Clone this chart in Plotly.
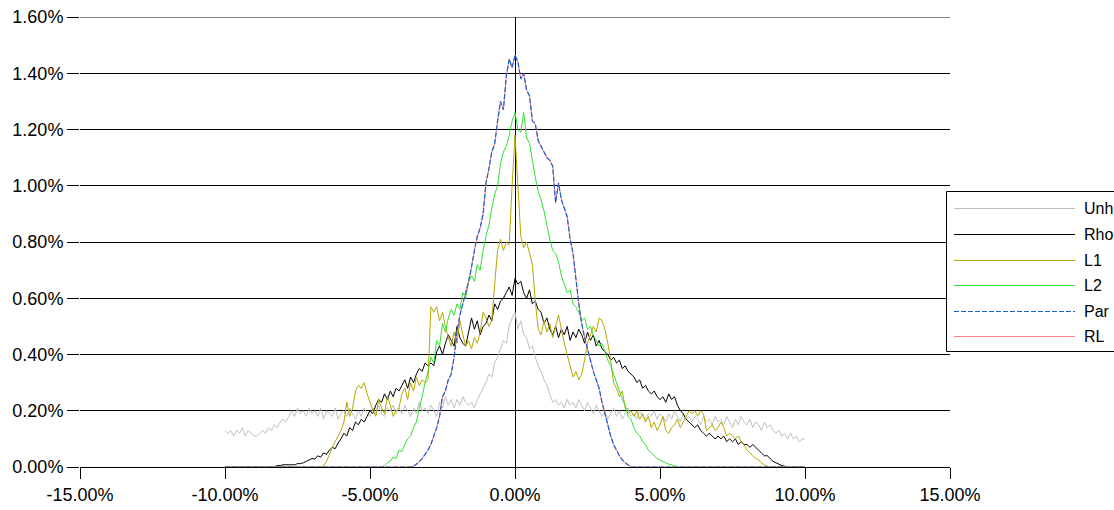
import plotly.graph_objects as go

# Return grid (in %), -10.0 .. 10.0 in 0.1 steps
ret_pct = [round(-10 + 0.1 * i, 1) for i in range(201)]

# Frequencies (in %) for each hedging strategy
unh_pct = [
    0.13, 0.12, 0.13, 0.11, 0.13, 0.12, 0.14, 0.11, 0.13, 0.12,
    0.11, 0.11, 0.12, 0.13, 0.12, 0.14, 0.13, 0.15, 0.14, 0.16,
    0.17, 0.16, 0.18, 0.20, 0.18, 0.21, 0.19, 0.20, 0.18, 0.21,
    0.19, 0.20, 0.18, 0.21, 0.17, 0.20, 0.19, 0.18, 0.21, 0.17,
    0.19, 0.20, 0.18, 0.21, 0.19, 0.17, 0.20, 0.18, 0.21, 0.19,
    0.18, 0.21, 0.19, 0.22, 0.19, 0.18, 0.21, 0.20, 0.22, 0.19,
    0.21, 0.19, 0.22, 0.20, 0.18, 0.21, 0.19, 0.23, 0.20, 0.21,
    0.19, 0.22, 0.20, 0.18, 0.23, 0.21, 0.25, 0.22, 0.24, 0.21,
    0.24, 0.22, 0.25, 0.23, 0.22, 0.23, 0.21, 0.24, 0.26, 0.28,
    0.30, 0.33, 0.32, 0.37, 0.39, 0.42, 0.45, 0.44, 0.50, 0.53,
    0.55,
    0.49, 0.52, 0.47, 0.46, 0.42, 0.43, 0.39, 0.36, 0.34, 0.31,
    0.29, 0.26, 0.23, 0.24, 0.22, 0.23, 0.21, 0.24, 0.22, 0.23,
    0.21, 0.24, 0.22, 0.20, 0.23, 0.21, 0.19, 0.22, 0.20, 0.18,
    0.20, 0.17, 0.19, 0.21, 0.18, 0.20, 0.17, 0.19, 0.21, 0.18,
    0.19, 0.17, 0.20, 0.18, 0.17, 0.19, 0.18, 0.20, 0.17, 0.19,
    0.18, 0.16, 0.19, 0.17, 0.20, 0.18, 0.16, 0.19, 0.17, 0.18,
    0.16, 0.18, 0.17, 0.15, 0.18, 0.16, 0.17, 0.15, 0.18, 0.16,
    0.17, 0.15, 0.18, 0.16, 0.14, 0.17, 0.15, 0.18, 0.16, 0.15,
    0.17, 0.14, 0.16, 0.15, 0.13, 0.16, 0.14, 0.15, 0.13, 0.12,
    0.13, 0.11, 0.12, 0.10, 0.12, 0.10, 0.11, 0.09, 0.10, 0.10,
]

rho_pct = [
    0, 0, 0, 0, 0, 0, 0, 0, 0, 0,
    0, 0, 0, 0, 0, 0, 0, 0, 0.005, 0.005,
    0.008, 0.008, 0.008, 0.008, 0.008, 0.012, 0.012, 0.015, 0.02, 0.025,
    0.03, 0.028, 0.04, 0.035, 0.05, 0.045, 0.06, 0.07, 0.065, 0.085,
    0.10, 0.12, 0.11, 0.14, 0.13, 0.16, 0.15, 0.17, 0.16, 0.18,
    0.20, 0.19, 0.22, 0.24, 0.23, 0.26, 0.24, 0.27, 0.25, 0.28,
    0.27, 0.29, 0.31, 0.28, 0.32, 0.30, 0.33, 0.35, 0.34, 0.37,
    0.36, 0.37, 0.36, 0.41, 0.43, 0.40, 0.44, 0.47, 0.45, 0.43,
    0.50, 0.46, 0.44, 0.43, 0.48, 0.53, 0.49, 0.52, 0.47, 0.50,
    0.51, 0.54, 0.52, 0.58, 0.56, 0.59, 0.60, 0.62, 0.64, 0.61,
    0.67,
    0.65, 0.66, 0.62, 0.60, 0.63, 0.58, 0.59, 0.56, 0.55, 0.51,
    0.53, 0.49, 0.47, 0.50, 0.46, 0.49, 0.47, 0.50, 0.45, 0.48,
    0.46, 0.49, 0.47, 0.44, 0.48, 0.45, 0.47, 0.43, 0.45, 0.42,
    0.41, 0.40, 0.38, 0.39, 0.37, 0.38, 0.35, 0.36, 0.34, 0.33,
    0.32, 0.30, 0.31, 0.28, 0.29, 0.27, 0.26, 0.27, 0.25, 0.24,
    0.25, 0.23, 0.26, 0.24, 0.25, 0.22, 0.20, 0.19, 0.17, 0.16,
    0.15, 0.14, 0.15, 0.13, 0.12, 0.11, 0.12, 0.11, 0.10, 0.11,
    0.10, 0.11, 0.09, 0.10, 0.09, 0.10, 0.08, 0.09, 0.08, 0.08,
    0.07, 0.08, 0.07, 0.06, 0.05, 0.04, 0.04, 0.03, 0.02, 0.015,
    0.01, 0.005, 0.003, 0, 0, 0, 0, 0, 0, 0,
]

l1_pct = [
    0, 0, 0, 0, 0, 0, 0, 0, 0, 0,
    0, 0, 0, 0, 0, 0, 0, 0, 0, 0,
    0, 0, 0, 0, 0, 0, 0, 0, 0, 0,
    0, 0, 0, 0, 0.005, 0.02, 0.045, 0.07, 0.09, 0.11,
    0.13, 0.16, 0.23, 0.18, 0.21, 0.27, 0.29, 0.28, 0.30, 0.26,
    0.23, 0.20, 0.18, 0.24, 0.21, 0.19, 0.25, 0.22, 0.18, 0.20,
    0.21, 0.26, 0.28, 0.24, 0.30, 0.27, 0.32, 0.29, 0.31, 0.30,
    0.31, 0.57, 0.55, 0.57, 0.52, 0.55, 0.50, 0.46, 0.43, 0.48,
    0.44, 0.52, 0.47, 0.43, 0.45, 0.42, 0.46, 0.44, 0.48, 0.55,
    0.53, 0.50, 0.52, 0.65, 0.77, 0.81, 0.77, 0.80, 0.79, 1.00,
    1.18,
    1.00, 0.82, 0.78, 0.80, 0.76, 0.72, 0.59, 0.49, 0.47, 0.52,
    0.48, 0.51, 0.46, 0.50, 0.54, 0.49, 0.44, 0.40, 0.36, 0.32,
    0.34, 0.31, 0.33, 0.38, 0.44, 0.47, 0.50, 0.48, 0.53, 0.52,
    0.49, 0.44, 0.38, 0.30, 0.28, 0.25, 0.27, 0.21, 0.19, 0.20,
    0.18, 0.20, 0.17, 0.19, 0.16, 0.18, 0.14, 0.16, 0.13, 0.15,
    0.18, 0.13, 0.12, 0.14, 0.15, 0.17, 0.14, 0.16, 0.18, 0.20,
    0.19, 0.20, 0.18, 0.20, 0.19, 0.13, 0.14, 0.15, 0.13, 0.14,
    0.16, 0.14, 0.11, 0.12, 0.11, 0.10, 0.11, 0.09, 0.08, 0.06,
    0.05, 0.04, 0.03, 0.025, 0.015, 0.007, 0.003, 0, 0, 0,
    0, 0, 0, 0, 0, 0, 0, 0, 0, 0,
]

l2_pct = [
    0, 0, 0, 0, 0, 0, 0, 0, 0, 0,
    0, 0, 0, 0, 0, 0, 0, 0, 0, 0,
    0, 0, 0, 0, 0, 0, 0, 0, 0, 0,
    0, 0, 0, 0, 0, 0, 0, 0, 0, 0,
    0, 0, 0, 0, 0, 0, 0, 0, 0, 0,
    0, 0, 0, 0, 0, 0.005, 0.015, 0.02, 0.035, 0.03,
    0.06, 0.055, 0.08, 0.10, 0.11, 0.14, 0.16, 0.21, 0.25, 0.30,
    0.34, 0.39, 0.37, 0.45, 0.43, 0.51, 0.48, 0.53, 0.56, 0.54,
    0.58, 0.56, 0.62, 0.60, 0.66, 0.68, 0.66, 0.72, 0.70, 0.77,
    0.82, 0.86, 0.92, 0.97, 1.00, 1.08, 1.12, 1.14, 1.18, 1.23,
    1.26,
    1.20, 1.19, 1.26, 1.17, 1.15, 1.09, 1.03, 0.98, 0.95, 0.91,
    0.86, 0.81, 0.77, 0.76, 0.73, 0.68, 0.65, 0.62, 0.63, 0.58,
    0.57, 0.55, 0.52, 0.53, 0.49, 0.50, 0.47, 0.45, 0.43, 0.44,
    0.41, 0.38, 0.36, 0.33, 0.30, 0.27, 0.24, 0.22, 0.18, 0.17,
    0.14, 0.12, 0.11, 0.09, 0.08, 0.06, 0.05, 0.04, 0.03, 0.025,
    0.02, 0.015, 0.01, 0.008, 0.004, 0, 0, 0, 0, 0,
    0, 0, 0, 0, 0, 0, 0, 0, 0, 0,
    0, 0, 0, 0, 0, 0, 0, 0, 0, 0,
    0, 0, 0, 0, 0, 0, 0, 0, 0, 0,
    0, 0, 0, 0, 0, 0, 0, 0, 0, 0,
]

par_pct = [
    0, 0, 0, 0, 0, 0, 0, 0, 0, 0,
    0, 0, 0, 0, 0, 0, 0, 0, 0, 0,
    0, 0, 0, 0, 0, 0, 0, 0, 0, 0,
    0, 0, 0, 0, 0, 0, 0, 0, 0, 0,
    0, 0, 0, 0, 0, 0, 0, 0, 0, 0,
    0, 0, 0, 0, 0, 0, 0, 0, 0, 0,
    0, 0, 0, 0, 0, 0.003, 0.01, 0.02, 0.03, 0.045,
    0.06, 0.08, 0.11, 0.14, 0.18, 0.25, 0.27, 0.31, 0.33, 0.39,
    0.48, 0.54, 0.58, 0.62, 0.66, 0.71, 0.77, 0.82, 0.85, 0.90,
    1.01, 1.06, 1.12, 1.15, 1.23, 1.30, 1.27, 1.39, 1.45, 1.42,
    1.465,
    1.44, 1.38, 1.40, 1.34, 1.32, 1.23, 1.22, 1.16, 1.14, 1.12,
    1.10, 1.09, 1.07, 0.94, 1.01, 0.95, 0.92, 0.89, 0.81, 0.76,
    0.67, 0.58, 0.51, 0.46, 0.42, 0.38, 0.34, 0.31, 0.28, 0.23,
    0.19, 0.15, 0.11, 0.08, 0.06, 0.04, 0.025, 0.015, 0.007, 0,
    0, 0, 0, 0, 0, 0, 0, 0, 0, 0,
    0, 0, 0, 0, 0, 0, 0, 0, 0, 0,
    0, 0, 0, 0, 0, 0, 0, 0, 0, 0,
    0, 0, 0, 0, 0, 0, 0, 0, 0, 0,
    0, 0, 0, 0, 0, 0, 0, 0, 0, 0,
    0, 0, 0, 0, 0, 0, 0, 0, 0, 0,
]

rl_pct = [
    0, 0, 0, 0, 0, 0, 0, 0, 0, 0,
    0, 0, 0, 0, 0, 0, 0, 0, 0, 0,
    0, 0, 0, 0, 0, 0, 0, 0, 0, 0,
    0, 0, 0, 0, 0, 0, 0, 0, 0, 0,
    0, 0, 0, 0, 0, 0, 0, 0, 0, 0,
    0, 0, 0, 0, 0, 0, 0, 0, 0, 0,
    0, 0, 0, 0, 0, 0.003, 0.01, 0.02, 0.03, 0.045,
    0.06, 0.08, 0.11, 0.14, 0.18, 0.25, 0.27, 0.31, 0.33, 0.39,
    0.48, 0.54, 0.58, 0.62, 0.66, 0.71, 0.77, 0.82, 0.85, 0.90,
    1.01, 1.06, 1.12, 1.15, 1.23, 1.30, 1.27, 1.39, 1.45, 1.42,
    1.465,
    1.44, 1.38, 1.40, 1.34, 1.32, 1.23, 1.22, 1.16, 1.14, 1.12,
    1.10, 1.09, 1.07, 0.94, 1.01, 0.95, 0.92, 0.89, 0.81, 0.76,
    0.67, 0.58, 0.51, 0.46, 0.42, 0.38, 0.34, 0.31, 0.28, 0.23,
    0.19, 0.15, 0.11, 0.08, 0.06, 0.04, 0.025, 0.015, 0.007, 0,
    0, 0, 0, 0, 0, 0, 0, 0, 0, 0,
    0, 0, 0, 0, 0, 0, 0, 0, 0, 0,
    0, 0, 0, 0, 0, 0, 0, 0, 0, 0,
    0, 0, 0, 0, 0, 0, 0, 0, 0, 0,
    0, 0, 0, 0, 0, 0, 0, 0, 0, 0,
    0, 0, 0, 0, 0, 0, 0, 0, 0, 0,
]

x_tick_vals = [-15, -10, -5, 0, 5, 10, 15]
x_tick_text = ["-15.00%", "-10.00%", "-5.00%", "0.00%", "5.00%", "10.00%", "15.00%"]
y_tick_vals = [0, 0.2, 0.4, 0.6, 0.8, 1.0, 1.2, 1.4, 1.6]
y_tick_text = ["0.00%", "0.20%", "0.40%", "0.60%", "0.80%", "1.00%", "1.20%", "1.40%", "1.60%"]

# name, values, colour, dash, width
series = [
    ("Unh", unh_pct, "#c0c0c0", "solid", 1),
    ("Rho", rho_pct, "#000000", "solid", 1),
    ("L1", l1_pct, "#b5a800", "solid", 1),
    ("L2", l2_pct, "#33e033", "solid", 1),
    ("Par", par_pct, "#1a5fd6", "5px,2px", 1.2),
    ("RL", rl_pct, "#ff8080", "solid", 1),
]
for s in series:
    assert len(s[1]) == len(ret_pct)

W, H = 1114, 510
L, R, T, B = 80, 950, 17, 467   # plot area edges in pixels

fig = go.Figure()
# RL underneath, dashed Par on top of it
draw_order = [0, 1, 2, 3, 5, 4]
for k in draw_order:
    name, vals, color, dash, lw = series[k]
    fig.add_trace(go.Scatter(
        x=ret_pct, y=vals, mode="lines", name=name,
        line=dict(color=color, width=lw, dash=dash, simplify=False),
        showlegend=False, hoverinfo="skip",
    ))

font = dict(family="Liberation Sans, Arial, sans-serif", color="#000000")


def px_x(p):
    return (p - L) / (R - L)


def px_y(p):
    return (B - p) / (B - T)


# Top gridline at the upper end of the value range
shapes = [dict(type="line", xref="paper", yref="y", x0=0, x1=1, y0=1.6, y1=1.6,
               line=dict(color="#000000", width=1), layer="below")]

# Boxed legend on the right
shapes.append(dict(type="rect", xref="paper", yref="paper",
                   x0=px_x(946.5), x1=px_x(1130), y0=px_y(351.5), y1=px_y(191.5),
                   line=dict(color="#000000", width=1), fillcolor="#ffffff", layer="above"))
annotations = []
row0, row_step = 208.5, 25.6
for i, (name, vals, color, dash, lw) in enumerate(series):
    yy = px_y(round(row0 + i * row_step) + 0.5)
    shapes.append(dict(type="line", xref="paper", yref="paper",
                       x0=px_x(954), x1=px_x(1075), y0=yy, y1=yy,
                       line=dict(color=color, width=1, dash=dash), layer="above"))
    annotations.append(dict(text=name, xref="paper", yref="paper",
                            x=px_x(1082), y=yy, xanchor="left", yanchor="middle",
                            showarrow=False, font=dict(size=16, **font)))

fig.update_layout(
    template="none",
    width=W, height=H,
    margin=dict(l=L, r=W - R, t=T, b=H - B, pad=0, autoexpand=False),
    paper_bgcolor="#ffffff", plot_bgcolor="#ffffff",
    font=dict(size=18, **font),
    showlegend=False,
    shapes=shapes, annotations=annotations,
    xaxis=dict(
        range=[-15, 15], tickmode="array", tickvals=x_tick_vals, ticktext=x_tick_text,
        ticks="outside", ticklen=11, tickwidth=1, tickcolor="#000000",
        showline=True, linecolor="#000000", linewidth=1,
        showgrid=False, zeroline=True, zerolinecolor="#000000", zerolinewidth=1,
        tickfont=dict(size=18, **font), layer="below traces", fixedrange=True,
        automargin=False,
    ),
    yaxis=dict(
        range=[0, 1.6], tickmode="array", tickvals=y_tick_vals, ticktext=y_tick_text,
        ticks="outside", ticklen=12, tickwidth=1, tickcolor="#000000",
        showline=False, showgrid=True, gridcolor="#000000", gridwidth=1,
        zeroline=False, tickfont=dict(size=18, **font), layer="below traces",
        fixedrange=True, automargin=False,
    ),
)

fig.write_html("out.html")
